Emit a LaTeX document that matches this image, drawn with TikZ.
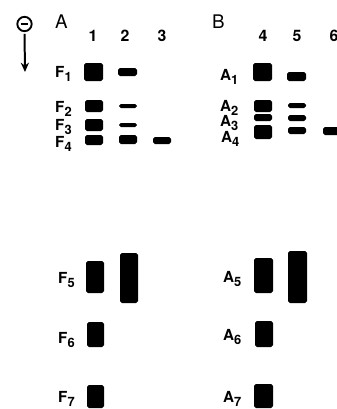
\documentclass[tikz,border=0pt]{standalone}
\usepackage{fontspec}
\setmainfont{TeX Gyre Heros}
\usetikzlibrary{arrows.meta}
\newcommand{\bandlbl}[2]{#1\raisebox{-3.6pt}{\fontsize{11}{12}\selectfont #2}}
\tikzset{
	band/.style={fill=black, rounded corners=1.5pt},
	lbl/.style={anchor=base west, inner sep=0pt, font=\fontsize{13}{15}\selectfont\bfseries},
	lanenum/.style={anchor=base, inner sep=0pt, font=\fontsize{13.5}{15}\selectfont\bfseries},
	panel/.style={anchor=base west, inner sep=0pt, font=\fontsize{16}{18}\selectfont}
}
\begin{document}
\begin{tikzpicture}[x=0.03cm,y=-0.03cm]
	\useasboundingbox (0,0) rectangle (337,409);
	% Sens de migration
	\node[circle, draw, line width=1.6pt, minimum size=0.43cm, inner sep=0pt] (moins) at (24.5,24) {\rule[-0.8pt]{6.5pt}{1.6pt}};
	\coordinate (bas) at (25,72);
	\draw[line width=1.7pt, -{Stealth[length=8pt,width=7pt]}, shorten <=1.5pt] (moins.south) -- (bas);
	
	% Panneaux et pistes
	\node[panel] (panA) at (55,28) {A};
	\node[panel] (panB) at (212,28) {B};
	\node[lanenum] (p1) at (93,41) {1};
	\node[lanenum] (p2) at (125,41) {2};
	\node[lanenum] (p3) at (162,41) {3};
	\node[lanenum] (p4) at (263,41) {4};
	\node[lanenum] (p5) at (297,41) {5};
	\node[lanenum] (p6) at (334,41) {6};
	
	% Fractions F
	\node[lbl] (f1) at (55,77) {\bandlbl{F}{1}};
	\node[lbl] (f2) at (55,112) {\bandlbl{F}{2}};
	\node[lbl] (f3) at (55,130) {\bandlbl{F}{3}};
	\node[lbl] (f4) at (55,147) {\bandlbl{F}{4}};
	\node[lbl] (f5) at (58,283) {\bandlbl{F}{5}};
	\node[lbl] (f6) at (58,343) {\bandlbl{F}{6}};
	\node[lbl] (f7) at (58,402) {\bandlbl{F}{7}};
	
	% Fractions A
	\node[lbl] (a1) at (220,80) {\bandlbl{A}{1}};
	\node[lbl] (a2) at (220,111) {\bandlbl{A}{2}};
	\node[lbl] (a3) at (220,126) {\bandlbl{A}{3}};
	\node[lbl] (a4) at (221,142) {\bandlbl{A}{4}};
	\node[lbl] (a5) at (223,282) {\bandlbl{A}{5}};
	\node[lbl] (a6) at (223,340) {\bandlbl{A}{6}};
	\node[lbl] (a7) at (223,402) {\bandlbl{A}{7}};
	
	% Bandes piste 1 a 3
	\fill[band] (84,63) rectangle (103,81);
	\fill[band] (85,100) rectangle (103,112);
	\fill[band] (85,119) rectangle (103,131);
	\fill[band] (85,135) rectangle (103,145);
	\fill[band] (86,261) rectangle (104,293);
	\fill[band] (87,322) rectangle (104,347);
	\fill[band] (87,385) rectangle (104,408);
	\fill[band] (118,68) rectangle (137,76);
	\fill[band] (119,104) rectangle (137,108);
	\fill[band] (119,123) rectangle (137,127);
	\fill[band] (119,135) rectangle (137,144);
	\fill[band] (120,253) rectangle (138,303);
	\fill[band] (153,137) rectangle (171,144);
	
	% Bandes piste 4 a 6
	\fill[band] (253,63) rectangle (272,81);
	\fill[band] (254,100) rectangle (272,112);
	\fill[band] (254,114) rectangle (272,121);
	\fill[band] (254,125) rectangle (272,139);
	\fill[band] (254,258) rectangle (273,293);
	\fill[band] (255,321) rectangle (273,347);
	\fill[band] (254,384) rectangle (273,408);
	\fill[band] (287,72) rectangle (306,81);
	\fill[band] (288,103) rectangle (306,108);
	\fill[band] (288,115) rectangle (306,121);
	\fill[band] (288,127) rectangle (306,134);
	\fill[band] (288,251) rectangle (307,303);
	\fill[band] (323,127) rectangle (342,135);
\end{tikzpicture}
\end{document}
